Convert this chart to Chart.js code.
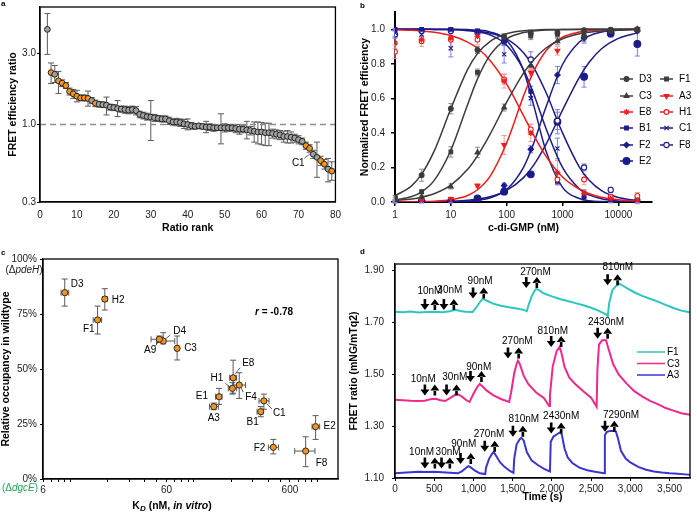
<!DOCTYPE html>
<html><head><meta charset="utf-8">
<script src="https://cdn.jsdelivr.net/npm/chart.js@4/dist/chart.umd.min.js"></script>
<style>
body{margin:0;background:#fff;width:697px;height:512px;position:relative;overflow:hidden;font-family:"Liberation Sans",Arial,sans-serif}
canvas{position:absolute}
.pl{position:absolute;font:bold 8px "Liberation Sans",Arial,sans-serif;color:#000;line-height:8px}
</style></head><body>
<canvas id="ca" width="348" height="250" style="left:0;top:0"></canvas>
<canvas id="cb" width="349" height="250" style="left:348px;top:0"></canvas>
<canvas id="cc" width="348" height="262" style="left:0;top:250px"></canvas>
<canvas id="cd" width="349" height="262" style="left:348px;top:250px"></canvas>
<div class="pl" style="left:1px;top:0px">a</div>
<div class="pl" style="left:360px;top:2px">b</div>
<div class="pl" style="left:1px;top:249px">c</div>
<div class="pl" style="left:360px;top:248px">d</div>
<script>
// ---------------- Panel a data ----------------
const aRank = [2,3,4,5,6,7,8,9,10,11,12,13,14,15,16,17,18,19,20,21,22,23,24,25,26,27,28,29,30,31,32,33,34,35,36,37,38,39,40,41,42,43,44,45,46,47,48,49,50,51,52,53,54,55,56,57,58,59,60,61,62,63,64,65,66,67,68,69,70,71,72,73,74,75,76,77,78,79];
const aRatio = [4.38,2.24,2.18,1.97,1.90,1.83,1.67,1.61,1.55,1.51,1.51,1.50,1.45,1.39,1.37,1.36,1.35,1.31,1.30,1.28,1.27,1.26,1.25,1.26,1.24,1.17,1.15,1.13,1.12,1.11,1.10,1.09,1.09,1.06,1.04,1.04,1.03,1.01,1.00,0.98,0.97,0.98,0.97,0.96,0.96,0.95,0.95,0.95,0.95,0.95,0.95,0.94,0.93,0.93,0.92,0.91,0.90,0.89,0.89,0.88,0.88,0.87,0.86,0.85,0.83,0.83,0.82,0.81,0.79,0.77,0.72,0.69,0.63,0.60,0.57,0.54,0.50,0.485];
const aLow = [2.97,1.89,1.92,1.62,1.80,1.75,1.58,1.50,1.42,1.45,1.44,1.33,1.38,1.32,1.31,1.30,1.16,1.25,1.24,1.13,1.21,1.19,1.18,1.19,1.16,1.11,1.09,1.07,0.78,1.05,1.05,1.04,1.04,1.00,0.99,0.98,0.97,0.94,0.92,0.93,0.93,0.95,0.93,0.88,0.91,0.90,0.91,0.74,0.89,0.90,0.90,0.88,0.86,0.88,0.80,0.85,0.76,0.74,0.73,0.72,0.72,0.81,0.80,0.79,0.76,0.75,0.75,0.76,0.74,0.73,0.68,0.65,0.59,0.44,0.53,0.50,0.41,0.42];
const aHigh = [5.6,2.6,2.5,2.28,2.0,1.92,1.76,1.72,1.70,1.58,1.58,1.68,1.52,1.46,1.43,1.42,1.53,1.37,1.36,1.45,1.33,1.33,1.32,1.33,1.32,1.23,1.21,1.19,1.45,1.17,1.15,1.14,1.14,1.12,1.09,1.10,1.09,1.08,1.09,1.03,1.01,1.01,1.01,1.05,1.01,1.00,0.99,1.18,1.01,1.00,1.00,1.00,1.00,0.98,1.05,0.97,1.04,1.04,1.03,1.02,1.02,0.93,0.92,0.91,0.90,0.91,0.89,0.86,0.84,0.81,0.76,0.73,0.67,0.76,0.61,0.58,0.59,0.56];
const aHighlighted = [3,5,6,7,8,9,10,11,12,13,15,72,73,76,77,79];
const aXTicks = [0,10,20,30,40,50,60,70,80];
const aYTicks = [0.3,1.0,3.0];
const aRefLine = 1.0;

// ---------------- Panel b data ----------------
const bConc = [1,3,10,30,90,270,810,2430,7290,21870];
const bD3 = [0.027,0.155,0.54,0.88,0.957,0.976,0.98,0.995,0.998,1.0];
const bF1 = [0.018,0.06,0.29,0.75,0.955,0.96,0.97,0.95,0.99,1.0];
const bC3 = [0.01,0.03,0.09,0.287,0.547,0.79,0.93,0.97,0.99,1.0];
const bA3 = [0.005,0.008,0.018,0.095,0.33,0.75,0.876,0.985,0.995,1.0];
const bE8 = [0.92,0.94,0.95,0.96,0.70,0.40,0.17,0.05,0.02,0.01];
const bH1 = [0.87,0.93,0.94,0.94,0.71,0.42,0.13,0.13,0.03,0.035];
const bB1 = [1.0,1.0,1.0,0.99,0.93,0.64,0.12,0.03,0.005,0.0];
const bC1 = [0.98,0.97,0.89,0.98,0.855,0.60,0.31,0.05,0.01,0.0];
const bF2 = [0.0,0.0,0.0,0.02,0.095,0.305,0.735,0.95,0.98,0.99];
const bE2 = [0.0,0.0,0.0,0.02,0.06,0.16,0.465,0.725,0.975,0.915];
const bF8 = [0.97,0.99,0.99,0.98,0.93,0.825,0.47,0.20,0.07,0.01];
const bD3Err = [0.01,0.035,0.03,0.02,0.015,0.02,0.01,0.01,0.01,0.005];
const bF1Err = [0.01,0.01,0.03,0.02,0.02,0.02,0.02,0.02,0.01,0.005];
const bC3Err = [0.005,0.01,0.015,0.03,0.02,0.02,0.02,0.01,0.01,0.005];
const bA3Err = [0.005,0.005,0.01,0.01,0.055,0.02,0.025,0.01,0.01,0.005];
const bE8Err = [0.03,0.02,0.05,0.02,0.04,0.05,0.07,0.02,0.02,0.02];
const bH1Err = [0.04,0.03,0.06,0.03,0.03,0.03,0.03,0.03,0.015,0.02];
const bB1Err = [0.005,0.005,0.01,0.01,0.02,0.03,0.02,0.02,0.01,0.005];
const bC1Err = [0.02,0.02,0.05,0.02,0.05,0.04,0.06,0.02,0.01,0.005];
const bF2Err = [0.005,0.005,0.005,0.01,0.015,0.02,0.05,0.03,0.02,0.01];
const bE2Err = [0.005,0.005,0.005,0.01,0.01,0.01,0.07,0.06,0.02,0.07];
const bF8Err = [0.02,0.01,0.01,0.01,0.02,0.045,0.05,0.02,0.015,0.01];
// fitted curves at these concentrations
const bFitConc = [1,2,3,5,10,20,30,50,100,200,300,500,1000,2000,3000,5000,10000,21870];
const bD3Fit = [0.036,0.095,0.161,0.293,0.54,0.768,0.859,0.929,0.974,0.991,0.995,0.998,0.999,1,1,1,1,1];
const bF1Fit = [0.011,0.032,0.059,0.124,0.30,0.565,0.713,0.849,0.945,0.981,0.99,0.996,0.998,0.999,1,1,1,1];
const bC3Fit = [0.009,0.018,0.028,0.048,0.098,0.189,0.267,0.39,0.578,0.746,0.821,0.89,0.945,0.974,0.983,0.99,0.995,0.998];
const bA3Fit = [0.0003,0.001,0.002,0.004,0.013,0.038,0.071,0.147,0.343,0.613,0.752,0.873,0.954,0.984,0.992,0.996,0.999,1];
const bE8Fit = [0.997,0.994,0.99,0.983,0.964,0.926,0.89,0.821,0.682,0.5,0.39,0.267,0.145,0.074,0.048,0.028,0.013,0.006];
const bB1Fit = [1,1,1,1,1,0.998,0.995,0.985,0.936,0.762,0.568,0.30,0.085,0.02,0.008,0.003,0.001,0];
const bC1Fit = [1,1,1,0.999,0.998,0.992,0.986,0.968,0.908,0.766,0.631,0.43,0.20,0.076,0.041,0.019,0.006,0.002];
const bF8Fit = [1,1,1,0.999,0.998,0.994,0.989,0.978,0.944,0.864,0.783,0.638,0.40,0.202,0.126,0.066,0.026,0.009];
const bF2Fit = [0,0,0,0,0.0015,0.005,0.01,0.023,0.072,0.20,0.334,0.545,0.796,0.926,0.962,0.984,0.995,0.999];
const bE2Fit = [0.0003,0.0007,0.001,0.002,0.0045,0.01,0.017,0.03,0.067,0.141,0.211,0.331,0.532,0.722,0.809,0.887,0.947,0.979];
const bXTicks = [1,10,100,1000,10000];
const bYTicks = [0,0.2,0.4,0.6,0.8,1.0];

// ---------------- Panel c data ----------------
const cNames = ['D3','H2','F1','D4','A9','C3','E8','H1','F4','E1','A3','C1','B1','E2','F2','F8'];
const cKd = [9.0,19.0,16.6,56.5,52.5,73.2,208,205,233,160,145,369,348,968,440,804];
const cKdLow = [8.4,18.2,15.3,50,45,71,195,190,210,150,134,337,325,906,401,656];
const cKdHigh = [9.7,19.9,17.9,70,56,76,222,222,262,169,158,406,364,1044,484,957];
const cOcc = [84.7,81.8,72.3,62.7,63.5,59.4,46.0,41.2,42.7,37.4,32.9,35.5,30.6,23.8,14.4,12.7];
const cOccLow = [78.6,76.8,65.9,61.4,62,54.1,39,38.6,36.6,33.9,31.5,31.7,28.3,18,11.4,5.6];
const cOccHigh = [90.9,86.5,78.6,66.5,65,65,54,43.8,48.3,41.2,34.5,38.6,32.9,28.8,18,19.2];
const cXTicks = [6,60,600];
const cXMinor = [7,8,9,10,20,30,40,50,70,80,90,100,200,300,400,500,700,800,900,1000];
const cYTicks = [0,25,50,75,100];
const cR = '-0.78';

// ---------------- Panel d data ----------------
const dF1T = [0,100,200,300,400,500,600,700,770,830,900,990,1040,1090,1122,1160,1250,1350,1450,1550,1640,1680,1700,1740,1780,1800,1830,1900,2000,2100,2200,2300,2400,2500,2600,2700,2712,2730,2770,2820,2859,2900,2960,3050,3150,3250,3350,3450,3550,3650,3780];
const dF1V = [1.742,1.740,1.743,1.739,1.741,1.742,1.740,1.744,1.749,1.745,1.742,1.741,1.760,1.782,1.792,1.786,1.773,1.765,1.759,1.754,1.749,1.744,1.765,1.800,1.823,1.830,1.826,1.812,1.801,1.791,1.783,1.775,1.767,1.757,1.745,1.730,1.726,1.775,1.825,1.842,1.850,1.843,1.832,1.817,1.803,1.792,1.781,1.768,1.756,1.746,1.738];
const dC3T = [0,100,200,300,380,450,520,580,640,700,760,790,850,910,950,1000,1050,1080,1110,1170,1250,1350,1455,1480,1520,1550,1567,1590,1640,1700,1800,1900,1965,1975,2010,2060,2097,2120,2160,2220,2300,2400,2500,2570,2580,2600,2640,2690,2720,2780,2850,2950,3050,3150,3250,3350,3450,3550,3650,3780];
const dC3V = [1.402,1.400,1.398,1.397,1.398,1.404,1.406,1.400,1.397,1.408,1.420,1.425,1.415,1.400,1.394,1.425,1.452,1.463,1.455,1.437,1.420,1.405,1.394,1.430,1.505,1.540,1.553,1.540,1.495,1.462,1.430,1.408,1.378,1.420,1.530,1.590,1.606,1.585,1.530,1.488,1.462,1.435,1.410,1.375,1.520,1.615,1.632,1.632,1.600,1.540,1.500,1.465,1.435,1.415,1.398,1.385,1.370,1.360,1.350,1.343];
const dA3T = [0,100,200,300,400,500,600,700,800,850,900,935,970,1020,1080,1150,1160,1200,1240,1258,1290,1340,1400,1460,1510,1520,1550,1590,1610,1640,1680,1740,1820,1900,1975,1985,2020,2060,2100,2125,2160,2200,2260,2350,2450,2550,2665,2675,2700,2750,2815,2840,2880,2940,3000,3100,3200,3300,3400,3500,3600,3700,3780];
const dA3V = [1.118,1.120,1.122,1.124,1.123,1.124,1.122,1.120,1.118,1.125,1.138,1.146,1.140,1.128,1.118,1.115,1.140,1.175,1.195,1.200,1.185,1.160,1.142,1.128,1.120,1.175,1.230,1.250,1.255,1.245,1.200,1.168,1.150,1.135,1.125,1.240,1.260,1.268,1.276,1.270,1.215,1.180,1.158,1.140,1.130,1.124,1.118,1.265,1.278,1.282,1.280,1.255,1.205,1.175,1.160,1.143,1.132,1.125,1.121,1.118,1.116,1.114,1.112];
// additions: dose labels, arrow times (down = start, up = stop), arrow levels, label anchors
const dF1Dose = ['10nM','30nM','90nM','270nM','810nM'];
const dF1Down = [381,623,995,1673,2710];
const dF1Up = [508,750,1131,1808,2837];
const dF1ArrowV = [1.770,1.770,1.814,1.855,1.865];
const dF1LabelT = [445,699,1085,1790,2840];
const dF1LabelV = [1.820,1.825,1.858,1.896,1.915];
const dC3Dose = ['10nM','30nM','90nM','270nM','810nM','2430nM'];
const dC3Down = [381,657,962,1440,1991,2583];
const dC3Up = [508,784,1102,1576,2118,2710];
const dC3ArrowV = [1.440,1.440,1.492,1.582,1.627,1.659];
const dC3LabelT = [360,762,1067,1559,2011,2690];
const dC3LabelV = [1.482,1.488,1.527,1.627,1.668,1.700];
const dA3Dose = ['10nM','30nM','90nM','270nM','810nM','2430nM','7290nM'];
const dA3Down = [381,593,835,1144,1503,1991,2677];
const dA3Up = [508,699,966,1271,1630,2118,2795];
const dA3ArrowV = [1.158,1.158,1.175,1.223,1.280,1.293,1.300];
const dA3LabelT = [339,677,877,1198,1643,2118,2881];
const dA3LabelV = [1.198,1.198,1.232,1.268,1.328,1.338,1.344];
const dXTicks = [0,500,1000,1500,2000,2500,3000,3500];
const dYTicks = [1.10,1.30,1.50,1.70,1.90];

// ---------------- common ----------------
const FONT = '"Liberation Sans", Arial, Helvetica, sans-serif';
Chart.defaults.font.family = FONT;
Chart.defaults.font.size = 10;
Chart.defaults.color = '#000';
Chart.defaults.animation = false;
Chart.defaults.plugins.legend.display = false;
Chart.defaults.plugins.tooltip.enabled = false;

const ticksAt = arr => s => { s.ticks = arr.map(v => ({value: v})); };
const pts = (xs, ys) => xs.map((x, i) => ({x: x, y: ys[i]}));

function richText(ctx, segs, x, y, align) {
  let w = 0;
  segs.forEach(s => { ctx.font = s.font; w += ctx.measureText(s.t).width; });
  let cx = align === 'center' ? x - w / 2 : (align === 'right' ? x - w : x);
  ctx.textAlign = 'left';
  ctx.textBaseline = 'middle';
  segs.forEach(s => { ctx.font = s.font; ctx.fillStyle = s.color || '#000'; ctx.fillText(s.t, cx, y + (s.dy || 0)); cx += ctx.measureText(s.t).width; });
}

const errPlugin = {
  id: 'errbars',
  beforeDatasetsDraw(chart) {
    const ctx = chart.ctx, xs = chart.scales.x, ys = chart.scales.y;
    chart.data.datasets.forEach(ds => {
      if (!ds.errY && !ds.errX) return;
      ctx.save();
      ctx.strokeStyle = ds.errColor || '#555';
      ctx.lineWidth = ds.errWidth || 1;
      const cap = ds.errCap || 3;
      ds.data.forEach((p, j) => {
        const px = xs.getPixelForValue(p.x), py = ys.getPixelForValue(p.y);
        ctx.beginPath();
        if (ds.errY && ds.errY[j]) {
          const y1 = ys.getPixelForValue(ds.errY[j][0]), y2 = ys.getPixelForValue(ds.errY[j][1]);
          ctx.moveTo(px, y1); ctx.lineTo(px, y2);
          ctx.moveTo(px - cap, y1); ctx.lineTo(px + cap, y1);
          ctx.moveTo(px - cap, y2); ctx.lineTo(px + cap, y2);
        }
        if (ds.errX && ds.errX[j]) {
          const x1 = xs.getPixelForValue(ds.errX[j][0]), x2 = xs.getPixelForValue(ds.errX[j][1]);
          ctx.moveTo(x1, py); ctx.lineTo(x2, py);
          ctx.moveTo(x1, py - cap); ctx.lineTo(x1, py + cap);
          ctx.moveTo(x2, py - cap); ctx.lineTo(x2, py + cap);
        }
        ctx.stroke();
      });
      ctx.restore();
    });
  }
};
const framePlugin = {
  id: 'frame',
  afterDraw(chart, args, opts) {
    if (!opts || !opts.on) return;
    const a = chart.chartArea, ctx = chart.ctx;
    ctx.save(); ctx.strokeStyle = '#000'; ctx.lineWidth = opts.w || 1.3;
    ctx.strokeRect(a.left, a.top, a.right - a.left, a.bottom - a.top);
    ctx.restore();
  }
};
Chart.register(errPlugin, framePlugin);

const axisFont = {size: 10};
const titleFont = {size: 10.5, weight: 'bold'};

// ---------------- Panel a ----------------
(function () {
  const orange = aRank.map(r => aHighlighted.includes(r));
  const annot = {
    id: 'aAnnot',
    afterDatasetsDraw(chart) {
      const ctx = chart.ctx, xs = chart.scales.x, ys = chart.scales.y;
      const i = aRank.indexOf(74);
      const px = xs.getPixelForValue(74), py = ys.getPixelForValue(aRatio[i]);
      ctx.save();
      ctx.strokeStyle = '#444'; ctx.lineWidth = 0.8;
      ctx.beginPath(); ctx.moveTo(px - 9, py + 4); ctx.lineTo(px - 3, py - 0.5); ctx.stroke();
      ctx.fillStyle = '#000'; ctx.font = '10px ' + FONT; ctx.textAlign = 'center'; ctx.textBaseline = 'middle';
      ctx.fillText('C1', px - 15, py + 9);
      ctx.restore();
    }
  };
  new Chart(document.getElementById('ca'), {
    type: 'scatter',
    data: {datasets: [
      {data: [{x: 0, y: aRefLine}, {x: 80, y: aRefLine}], showLine: true, borderColor: '#8c8c8c', borderDash: [6, 4], borderWidth: 1.3, pointRadius: 0, order: 3},
      {data: pts(aRank, aRatio), errY: aRank.map((r, i) => [aLow[i], aHigh[i]]), errColor: '#5a5a5a', errCap: 3, errWidth: 1,
        pointRadius: 2.9, pointBackgroundColor: orange.map(o => o ? '#f7941d' : '#a0a0a0'), pointBorderColor: '#222', pointBorderWidth: 1, order: 1}
    ]},
    options: {
      responsive: false, devicePixelRatio: 1,
      layout: {padding: {left: 0, top: 5, right: 11, bottom: 0}},
      scales: {
        x: {type: 'linear', min: 0, max: 80, afterBuildTicks: ticksAt(aXTicks), afterFit: s => { s.height = 48; },
          grid: {drawOnChartArea: false, drawTicks: false}, border: {color: '#000', width: 1.3},
          ticks: {font: axisFont, padding: 7, maxRotation: 0, autoSkip: false, color: '#222'},
          title: {display: true, text: 'Ratio rank', font: titleFont, padding: {top: 0, bottom: 16}}},
        y: {type: 'logarithmic', min: 0.3, max: 6.2, afterBuildTicks: ticksAt(aYTicks), afterFit: s => { s.width = 40; },
          grid: {drawOnChartArea: false, tickLength: 3, color: '#000'}, border: {color: '#000', width: 1.3},
          ticks: {font: axisFont, padding: 1, color: '#222', callback: v => Number(v).toFixed(1)},
          title: {display: true, text: 'FRET efficiency ratio', font: titleFont, padding: {top: 7, bottom: 0}}}
      },
      plugins: {frame: {on: true, w: 1.3}}
    },
    plugins: [annot]
  });
})();

// ---------------- Panel b ----------------
(function () {
  const GRAY = '#3c3c3c', GRAYE = '#8e8e8e', RED = '#ee1c1c', REDE = '#f59a9a', NAVY = '#1b1b8a', NAVYE = '#7a7af0';
  const series = [
    {n: 'D3', y: bD3, e: bD3Err, fit: bD3Fit, c: GRAY, ec: GRAYE, ps: 'circle', r: 2.4, open: false},
    {n: 'F1', y: bF1, e: bF1Err, fit: bF1Fit, c: GRAY, ec: GRAYE, ps: 'rect', r: 2.6, open: false},
    {n: 'C3', y: bC3, e: bC3Err, fit: bC3Fit, c: GRAY, ec: GRAYE, ps: 'triangle', r: 2.8, open: false},
    {n: 'A3', y: bA3, e: bA3Err, fit: bA3Fit, c: RED, ec: REDE, ps: 'triangle', rot: 180, r: 2.8, open: false},
    {n: 'E8', y: bE8, e: bE8Err, fit: bE8Fit, c: RED, ec: REDE, ps: 'star', r: 3, open: false},
    {n: 'H1', y: bH1, e: bH1Err, fit: null, c: RED, ec: REDE, ps: 'circle', r: 2.4, open: true},
    {n: 'B1', y: bB1, e: bB1Err, fit: bB1Fit, c: NAVY, ec: NAVYE, ps: 'rect', r: 2.6, open: false},
    {n: 'C1', y: bC1, e: bC1Err, fit: bC1Fit, c: NAVY, ec: NAVYE, ps: 'crossRot', r: 3, open: false},
    {n: 'F2', y: bF2, e: bF2Err, fit: bF2Fit, c: NAVY, ec: NAVYE, ps: 'rectRot', r: 2.8, open: false},
    {n: 'F8', y: bF8, e: bF8Err, fit: bF8Fit, c: NAVY, ec: NAVYE, ps: 'circle', r: 2.6, open: true},
    {n: 'E2', y: bE2, e: bE2Err, fit: bE2Fit, c: NAVY, ec: NAVYE, ps: 'circle', r: 3.4, open: false}
  ];
  const datasets = [];
  series.forEach(s => {
    if (s.fit) datasets.push({data: pts(bFitConc, s.fit), showLine: true, borderColor: s.c, borderWidth: 1.5, pointRadius: 0, cubicInterpolationMode: 'monotone', order: 5});
  });
  series.forEach(s => {
    datasets.push({label: s.n, data: pts(bConc, s.y), errY: s.y.map((v, i) => [v - s.e[i], v + s.e[i]]), errColor: s.ec, errCap: 2.5, errWidth: 1,
      pointStyle: s.ps, pointRotation: s.rot || 0, pointRadius: s.r, pointBackgroundColor: s.open ? '#fff' : s.c, pointBorderColor: s.c, pointBorderWidth: 1.1, order: 1});
  });
  const col1 = ['D3', 'C3', 'E8', 'B1', 'F2', 'E2'], col2 = ['F1', 'A3', 'H1', 'C1', 'F8'];
  const rows = [79, 96, 112, 128, 145, 161];
  const legend = {
    id: 'bLegend',
    afterDraw(chart) {
      const ctx = chart.ctx;
      const drawItem = (name, x0, y) => {
        const s = series.find(q => q.n === name);
        ctx.save();
        ctx.strokeStyle = s.c; ctx.lineWidth = 1.5;
        ctx.beginPath(); ctx.moveTo(x0, y); ctx.lineTo(x0 + 13, y); ctx.stroke();
        ctx.fillStyle = s.open ? '#fff' : s.c; ctx.strokeStyle = s.c; ctx.lineWidth = 1.1;
        Chart.helpers.drawPoint(ctx, {pointStyle: s.ps, radius: s.r, rotation: s.rot || 0, borderWidth: 1.1}, x0 + 6.5, y);
        ctx.fillStyle = '#000'; ctx.font = '10px ' + FONT; ctx.textAlign = 'left'; ctx.textBaseline = 'middle';
        ctx.fillText(name, x0 + 19, y + 0.5);
        ctx.restore();
      };
      col1.forEach((n, i) => drawItem(n, 272, rows[i]));
      col2.forEach((n, i) => drawItem(n, 312, rows[i]));
    }
  };
  new Chart(document.getElementById('cb'), {
    type: 'scatter',
    data: {datasets: datasets},
    options: {
      responsive: false, devicePixelRatio: 1,
      layout: {padding: {left: 0, top: 1, right: 45, bottom: 0}},
      scales: {
        x: {type: 'logarithmic', min: 1, max: 40000, afterBuildTicks: ticksAt(bXTicks), afterFit: s => { s.height = 48; },
          grid: {drawOnChartArea: false, tickLength: 4, color: '#000', lineWidth: 1.5}, border: {color: '#000', width: 2},
          ticks: {font: axisFont, padding: 3, maxRotation: 0, autoSkip: false, color: '#222', callback: v => String(v)},
          title: {display: true, text: 'c-di-GMP (nM)', font: titleFont, padding: {top: 0, bottom: 16}}},
        y: {type: 'linear', min: 0, max: 1.1, afterBuildTicks: ticksAt(bYTicks), afterFit: s => { s.width = 47; },
          grid: {drawOnChartArea: false, tickLength: 4, color: '#000', lineWidth: 1.5}, border: {color: '#000', width: 2},
          ticks: {font: axisFont, padding: 6, color: '#222', callback: v => Number(v).toFixed(1)},
          title: {display: true, text: 'Normalized FRET efficiency', font: titleFont, padding: {top: 11, bottom: 0}}}
      },
      plugins: {frame: {on: false}}
    },
    plugins: [legend]
  });
})();

// ---------------- Panel c ----------------
(function () {
  // label offsets relative to each point (styling only)
  const lab = {
    D3: [6, -8, 'left'], H2: [7, 1, 'left'], F1: [-3, 9, 'right'], D4: [10, -10, 'left', [7, -6, 2, -2]],
    A9: [-3, 11, 'right', [-4, 7, -1, 2]], C3: [7, 0, 'left'], E8: [9, -15, 'left', [7, -10, 2, -4]],
    H1: [-9, -10, 'right', [-7, -5, -2, -1]], F4: [6, 12, 'left', [4, 7, 2, 3]], E1: [-11, 0, 'right'],
    A3: [0, 12, 'center'], C1: [9, 12, 'left', [8, 8, 3, 3]], B1: [-2, 11, 'right'], E2: [8, 0, 'left'],
    F2: [-8, 1, 'right'], F8: [10, 12, 'left']
  };
  const annot = {
    id: 'cAnnot',
    afterDraw(chart) {
      const ctx = chart.ctx, xs = chart.scales.x, ys = chart.scales.y;
      ctx.save();
      cNames.forEach((n, i) => {
        const px = xs.getPixelForValue(cKd[i]), py = ys.getPixelForValue(cOcc[i]);
        const L = lab[n];
        if (L[3]) {
          ctx.strokeStyle = '#333'; ctx.lineWidth = 0.8;
          ctx.beginPath(); ctx.moveTo(px + L[3][0], py + L[3][1]); ctx.lineTo(px + L[3][2], py + L[3][3]); ctx.stroke();
        }
        ctx.fillStyle = '#000'; ctx.font = '10px ' + FONT; ctx.textAlign = L[2]; ctx.textBaseline = 'middle';
        ctx.fillText(n, px + L[0], py + L[1]);
      });
      const B = 'bold 10.5px ' + FONT, BI = 'italic bold 10.5px ' + FONT;
      richText(ctx, [{t: 'r', font: 'italic bold 10px ' + FONT}, {t: ' = ' + cR, font: 'bold 10px ' + FONT}], 255, 62, 'left');
      richText(ctx, [{t: 'K', font: B}, {t: 'D', font: 'italic bold 8px ' + FONT, dy: 3}, {t: ' (nM, ', font: B}, {t: 'in vitro', font: BI}, {t: ')', font: B}], 172, 256, 'center');
      const N = '10px ' + FONT, I = 'italic 10px ' + FONT;
      richText(ctx, [{t: '(Δ', font: N, color: '#222'}, {t: 'pdeH', font: I, color: '#222'}, {t: ')', font: N, color: '#222'}], 24, 20.5, 'center');
      richText(ctx, [{t: '(Δ', font: N, color: '#1fa84f'}, {t: 'dgcE', font: I, color: '#1fa84f'}, {t: ')', font: N, color: '#1fa84f'}], 20, 238, 'center');
      ctx.restore();
    }
  };
  const xTickList = cXTicks.concat(cXMinor).sort((a, b) => a - b);
  new Chart(document.getElementById('cc'), {
    type: 'scatter',
    data: {datasets: [
      {data: pts(cKd, cOcc), errY: cOcc.map((v, i) => [cOccLow[i], cOccHigh[i]]), errX: cKd.map((v, i) => [cKdLow[i], cKdHigh[i]]),
        errColor: '#5a5a5a', errCap: 3, errWidth: 1,
        pointRadius: 3.1, pointBackgroundColor: '#f7941d', pointBorderColor: '#2a2a2a', pointBorderWidth: 1}
    ]},
    options: {
      responsive: false, devicePixelRatio: 1,
      layout: {padding: {left: 0, top: 9, right: 10, bottom: 0}},
      scales: {
        x: {type: 'logarithmic', min: 6, max: 1470, afterBuildTicks: ticksAt(xTickList), afterFit: s => { s.height = 33; },
          grid: {drawOnChartArea: false, tickLength: 3, color: '#000'}, border: {color: '#000', width: 1.3},
          ticks: {font: axisFont, padding: 2, maxRotation: 0, autoSkip: false, color: '#222', callback: v => cXTicks.includes(v) ? String(v) : ''},
          title: {display: false}},
        y: {type: 'linear', min: 0, max: 100, afterBuildTicks: ticksAt(cYTicks), afterFit: s => { s.width = 43; },
          grid: {drawOnChartArea: false, tickLength: 3, color: '#000'}, border: {color: '#000', width: 1.3},
          ticks: {font: axisFont, padding: 3, color: '#222', callback: v => v + '%'},
          title: {display: true, text: 'Relative occupancy in wildtype', font: titleFont, padding: {top: 0, bottom: 0}}}
      },
      plugins: {frame: {on: true, w: 1.3}}
    },
    plugins: [annot]
  });
})();

// ---------------- Panel d ----------------
(function () {
  const traces = [
    {n: 'F1', t: dF1T, v: dF1V, c: '#2cc6c0', dose: dF1Dose, down: dF1Down, up: dF1Up, av: dF1ArrowV, lt: dF1LabelT, lv: dF1LabelV},
    {n: 'C3', t: dC3T, v: dC3V, c: '#f0288c', dose: dC3Dose, down: dC3Down, up: dC3Up, av: dC3ArrowV, lt: dC3LabelT, lv: dC3LabelV},
    {n: 'A3', t: dA3T, v: dA3V, c: '#3a35d0', dose: dA3Dose, down: dA3Down, up: dA3Up, av: dA3ArrowV, lt: dA3LabelT, lv: dA3LabelV}
  ];
  function arrow(ctx, x, yc, dir) {
    const h = 11, hw = 4.5, hh = 6, sw = 1.3;
    ctx.beginPath();
    if (dir < 0) {
      ctx.rect(x - sw, yc - h / 2, 2 * sw, h - hh + 0.5);
      ctx.moveTo(x - hw, yc + h / 2 - hh); ctx.lineTo(x + hw, yc + h / 2 - hh); ctx.lineTo(x, yc + h / 2); ctx.closePath();
    } else {
      ctx.rect(x - sw, yc - h / 2 + hh - 0.5, 2 * sw, h - hh + 0.5);
      ctx.moveTo(x - hw, yc - h / 2 + hh); ctx.lineTo(x + hw, yc - h / 2 + hh); ctx.lineTo(x, yc - h / 2); ctx.closePath();
    }
    ctx.fill();
  }
  const annot = {
    id: 'dAnnot',
    afterDraw(chart) {
      const ctx = chart.ctx, xs = chart.scales.x, ys = chart.scales.y;
      ctx.save();
      ctx.fillStyle = '#000';
      traces.forEach(tr => {
        tr.dose.forEach((d, i) => {
          ctx.fillStyle = '#000';
          arrow(ctx, xs.getPixelForValue(tr.down[i]), ys.getPixelForValue(tr.av[i]), -1);
          arrow(ctx, xs.getPixelForValue(tr.up[i]), ys.getPixelForValue(tr.av[i]), 1);
          ctx.font = '10px ' + FONT; ctx.textAlign = 'center'; ctx.textBaseline = 'middle';
          ctx.fillText(d, xs.getPixelForValue(tr.lt[i]), ys.getPixelForValue(tr.lv[i]));
        });
      });
      const rowsY = [102, 113.5, 125];
      traces.forEach((tr, i) => {
        ctx.strokeStyle = tr.c; ctx.lineWidth = 1.5;
        ctx.beginPath(); ctx.moveTo(289, rowsY[i]); ctx.lineTo(317, rowsY[i]); ctx.stroke();
        ctx.fillStyle = '#000'; ctx.font = '10px ' + FONT; ctx.textAlign = 'left'; ctx.textBaseline = 'middle';
        ctx.fillText(tr.n, 319, rowsY[i] + 0.5);
      });
      ctx.restore();
    }
  };
  new Chart(document.getElementById('cd'), {
    type: 'scatter',
    data: {datasets: traces.map(tr => ({label: tr.n, data: pts(tr.t, tr.v), showLine: true, borderColor: tr.c, borderWidth: 2, pointRadius: 0, tension: 0}))},
    options: {
      responsive: false, devicePixelRatio: 1,
      layout: {padding: {left: 0, top: 13, right: 7, bottom: 0}},
      scales: {
        x: {type: 'linear', min: 0, max: 3760, afterBuildTicks: ticksAt(dXTicks), afterFit: s => { s.height = 34; },
          grid: {drawOnChartArea: false, tickLength: 3, color: '#000'}, border: {color: '#000', width: 1.3},
          ticks: {font: axisFont, padding: 2, maxRotation: 0, autoSkip: false, color: '#222'},
          title: {display: true, text: 'Time (s)', font: titleFont, padding: {top: 0, bottom: 9}}},
        y: {type: 'linear', min: 1.10, max: 1.926, afterBuildTicks: ticksAt(dYTicks), afterFit: s => { s.width = 47; },
          grid: {drawOnChartArea: false, tickLength: 3, color: '#000'}, border: {color: '#000', width: 1.3},
          ticks: {font: axisFont, padding: 8, color: '#222', callback: v => Number(v).toFixed(2)},
          title: {display: true, text: 'FRET ratio (mNG/mTq2)', font: titleFont, padding: {top: 0, bottom: 0}}}
      },
      plugins: {frame: {on: true, w: 1.3}}
    },
    plugins: [annot]
  });
})();
</script>
</body></html>
